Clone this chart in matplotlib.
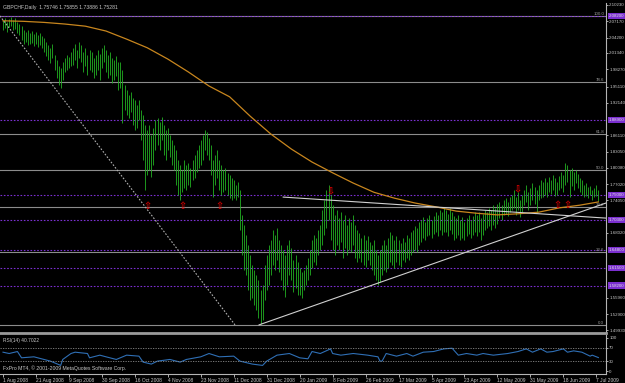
import matplotlib
matplotlib.use('Agg')
import matplotlib.pyplot as plt
import matplotlib.transforms as mtrans

# daily bars, GBPCHF, 1 Aug 2008 .. 10 Jul 2009 (one entry per bar)
highs = [
    2.075, 2.078, 2.071, 2.076, 2.080, 2.075, 2.078, 2.071, 2.067, 2.063,
    2.056, 2.052, 2.056, 2.050, 2.054, 2.049, 2.052, 2.047, 2.050, 2.045,
    2.041, 2.034, 2.028, 2.023, 2.030, 2.010, 2.000, 1.989, 1.986, 1.997,
    2.004, 2.010, 2.006, 2.015, 2.023, 2.030, 2.019, 2.034, 2.028, 2.015,
    2.023, 2.010, 2.019, 2.015, 2.004, 2.010, 2.019, 2.011, 2.023, 2.028,
    2.019, 2.010, 2.015, 2.004, 2.000, 2.008, 1.997, 1.997, 1.982, 1.954,
    1.945, 1.935, 1.941, 1.930, 1.926, 1.917, 1.926, 1.908, 1.898, 1.880,
    1.870, 1.880, 1.861, 1.874, 1.889, 1.893, 1.885, 1.895, 1.880, 1.870,
    1.874, 1.861, 1.852, 1.843, 1.833, 1.815, 1.806, 1.796, 1.815, 1.806,
    1.809, 1.800, 1.815, 1.824, 1.833, 1.843, 1.852, 1.861, 1.870, 1.867,
    1.856, 1.843, 1.815, 1.824, 1.833, 1.815, 1.806, 1.796, 1.800, 1.791,
    1.787, 1.781, 1.778, 1.768, 1.774, 1.759, 1.713, 1.694, 1.676, 1.657,
    1.639, 1.620, 1.611, 1.602, 1.592, 1.574, 1.583, 1.620, 1.639, 1.657,
    1.666, 1.685, 1.676, 1.689, 1.666, 1.657, 1.648, 1.639, 1.657, 1.666,
    1.652, 1.629, 1.639, 1.626, 1.615, 1.607, 1.611, 1.620, 1.633, 1.648,
    1.666, 1.676, 1.670, 1.685, 1.694, 1.722, 1.741, 1.759, 1.768, 1.750,
    1.731, 1.713, 1.722, 1.707, 1.718, 1.703, 1.713, 1.694, 1.707, 1.700,
    1.713, 1.694, 1.685, 1.679, 1.670, 1.676, 1.666, 1.674, 1.663, 1.657,
    1.666, 1.648, 1.639, 1.648, 1.657, 1.666, 1.657, 1.670, 1.681, 1.676,
    1.666, 1.674, 1.666, 1.661, 1.670, 1.663, 1.676, 1.670, 1.681, 1.685,
    1.692, 1.689, 1.700, 1.703, 1.709, 1.700, 1.707, 1.713, 1.703, 1.711,
    1.718, 1.713, 1.722, 1.718, 1.726, 1.722, 1.715, 1.726, 1.718, 1.711,
    1.707, 1.713, 1.703, 1.709, 1.700, 1.707, 1.713, 1.703, 1.711, 1.718,
    1.713, 1.718, 1.707, 1.715, 1.722, 1.718, 1.726, 1.722, 1.731, 1.726,
    1.733, 1.737, 1.731, 1.741, 1.744, 1.737, 1.746, 1.750, 1.759, 1.746,
    1.755, 1.741, 1.750, 1.759, 1.768, 1.755, 1.763, 1.772, 1.765, 1.759,
    1.768, 1.778, 1.774, 1.781, 1.774, 1.783, 1.778, 1.787, 1.781, 1.774,
    1.785, 1.793, 1.787, 1.809, 1.806, 1.796, 1.800, 1.793, 1.796, 1.789,
    1.781, 1.778, 1.768, 1.772, 1.765, 1.767, 1.759, 1.763, 1.768, 1.759,
]
lows = [
    2.056, 2.060, 2.052, 2.062, 2.063, 2.056, 2.058, 2.050, 2.047, 2.037,
    2.030, 2.034, 2.028, 2.030, 2.032, 2.026, 2.030, 2.024, 2.028, 2.023,
    2.015, 2.008, 2.000, 1.995, 2.004, 1.982, 1.967, 1.954, 1.948, 1.963,
    1.978, 1.982, 1.986, 1.989, 1.991, 2.000, 1.986, 2.004, 1.997, 1.978,
    1.989, 1.972, 1.982, 1.978, 1.967, 1.972, 1.982, 1.963, 1.986, 1.997,
    1.978, 1.967, 1.972, 1.958, 1.963, 1.971, 1.945, 1.948, 1.883, 1.908,
    1.898, 1.893, 1.904, 1.880, 1.870, 1.874, 1.889, 1.852, 1.815, 1.759,
    1.787, 1.796, 1.783, 1.806, 1.833, 1.843, 1.833, 1.852, 1.824, 1.815,
    1.833, 1.820, 1.806, 1.796, 1.768, 1.750, 1.741, 1.755, 1.763, 1.759,
    1.768, 1.765, 1.778, 1.781, 1.793, 1.800, 1.806, 1.815, 1.833, 1.824,
    1.815, 1.787, 1.746, 1.768, 1.781, 1.759, 1.750, 1.755, 1.759, 1.750,
    1.744, 1.741, 1.744, 1.741, 1.746, 1.685, 1.639, 1.611, 1.602, 1.574,
    1.555, 1.559, 1.546, 1.537, 1.522, 1.511, 1.518, 1.555, 1.574, 1.583,
    1.602, 1.620, 1.611, 1.629, 1.607, 1.592, 1.574, 1.561, 1.583, 1.602,
    1.592, 1.570, 1.577, 1.564, 1.564, 1.559, 1.574, 1.583, 1.592, 1.602,
    1.615, 1.626, 1.620, 1.639, 1.648, 1.657, 1.676, 1.689, 1.703, 1.666,
    1.648, 1.639, 1.657, 1.648, 1.663, 1.633, 1.652, 1.639, 1.648, 1.644,
    1.657, 1.633, 1.626, 1.633, 1.626, 1.620, 1.616, 1.629, 1.620, 1.611,
    1.602, 1.592, 1.583, 1.589, 1.602, 1.611, 1.607, 1.615, 1.626, 1.620,
    1.615, 1.626, 1.620, 1.616, 1.629, 1.626, 1.633, 1.629, 1.639, 1.644,
    1.648, 1.644, 1.657, 1.663, 1.670, 1.666, 1.674, 1.676, 1.670, 1.678,
    1.681, 1.674, 1.685, 1.676, 1.681, 1.681, 1.674, 1.685, 1.678, 1.666,
    1.670, 1.676, 1.666, 1.670, 1.666, 1.674, 1.678, 1.670, 1.676, 1.681,
    1.674, 1.681, 1.666, 1.676, 1.685, 1.689, 1.692, 1.685, 1.694, 1.689,
    1.696, 1.707, 1.703, 1.713, 1.715, 1.711, 1.718, 1.722, 1.726, 1.713,
    1.722, 1.709, 1.718, 1.731, 1.737, 1.722, 1.731, 1.741, 1.733, 1.716,
    1.741, 1.744, 1.746, 1.750, 1.746, 1.755, 1.752, 1.759, 1.748, 1.750,
    1.759, 1.763, 1.755, 1.768, 1.774, 1.746, 1.767, 1.759, 1.772, 1.763,
    1.755, 1.750, 1.746, 1.748, 1.744, 1.750, 1.741, 1.746, 1.748, 1.739,
]

# moving average (orange), sampled at bar indices
ma_idx = [0, 10, 20, 30, 40, 50, 60, 70, 80, 90, 100, 110, 120, 130, 140,
          150, 160, 170, 180, 190, 200, 210, 220, 230, 240, 250, 260, 270, 280, 289]
ma_val = [2.073, 2.072, 2.070, 2.067, 2.063, 2.054, 2.039, 2.023, 2.002, 1.978,
          1.952, 1.932, 1.896, 1.863, 1.835, 1.811, 1.791, 1.772, 1.755, 1.744,
          1.735, 1.728, 1.720, 1.716, 1.713, 1.715, 1.718, 1.726, 1.731, 1.737]

# RSI(14)
rsi_idx = [0, 3, 7, 9, 15, 23, 28, 29, 33, 35, 41, 42, 47, 50, 55, 60, 66, 68, 72, 75,
           81, 86, 89, 96, 100, 105, 112, 115, 121, 126, 128, 133, 139, 144, 148, 150,
           154, 159, 160, 164, 170, 177, 182, 183, 184, 186, 191, 196, 199, 204, 209,
           214, 218, 221, 225, 230, 233, 238, 245, 250, 254, 257, 261, 264, 267, 272,
           274, 277, 281, 285, 286, 289]
rsi_val = [57, 53, 59, 40, 43, 30, 17, 35, 53, 57, 53, 40, 48, 43, 35, 48, 45, 27, 21, 30,
           35, 27, 35, 43, 53, 43, 45, 30, 21, 17, 30, 48, 53, 40, 37, 59,
           53, 67, 53, 48, 53, 48, 43, 30, 30, 53, 45, 53, 45, 57, 59,
           67, 69, 48, 53, 48, 53, 48, 53, 59, 67, 57, 67, 57, 59, 67,
           57, 61, 57, 45, 48, 40.7]

# fibonacci retracement anchors and levels
fib_high = 2.082
fib_low = 1.509
fib_levels = [0.0, 23.6, 38.2, 50.0, 61.8, 78.6, 100.0]
# purple dotted horizontal lines
hlines = [2.082, 1.889, 1.750, 1.703, 1.648, 1.615, 1.582]
hline_labels = ['2.08200', '1.88900', '1.75000', '1.70300', '1.64800', '1.61500', '1.58200']

# trend lines: (bar, price) end points
diag_line = ([-1.5, 112.6], [2.082, 1.509])
support_line = ([124.3, 292.7], [1.509, 1.735])
resist_line = ([136.0, 292.7], [1.746, 1.707])

# red arrows
up_idx = [70, 87, 105, 269, 274]
up_price = [1.730, 1.730, 1.730, 1.731, 1.731]
down_idx = [159, 250]
down_price = [1.759, 1.763]

# axis labels not covered by the purple boxes
price_ticks = [2.10230, 2.07170, 2.04200, 2.01340, 1.98270, 1.95110, 1.92140,
               1.86110, 1.83050, 1.80080, 1.77020, 1.74050, 1.68020,
               1.55960, 1.52900, 1.49930]
date_labels = ['1 Aug 2008', '21 Aug 2008', '9 Sep 2008', '30 Sep 2008', '16 Oct 2008',
               '4 Nov 2008', '23 Nov 2008', '11 Dec 2008', '31 Dec 2008', '20 Jan 2009',
               '8 Feb 2009', '26 Feb 2009', '17 Mar 2009', '5 Apr 2009', '23 Apr 2009',
               '12 May 2009', '31 May 2009', '18 Jun 2009', '7 Jul 2009']
bars_per_label = 16

FONT = 'Liberation Sans'
FS = 3.5       # bottom / panel texts
FS_AX = 3.2    # right price axis
GRID = '#8c8c8c'
TXT = '#c8c8c8'

W, H = 625, 383
fig = plt.figure(figsize=(W / 100, H / 100), dpi=100, facecolor='black')
ax = fig.add_axes([0, 50 / H, 606 / W, 330 / H], facecolor='black')
rax = fig.add_axes([0, 9 / H, 606 / W, 39 / H], facecolor='black')

xlim = (-1.46, 292.7)
idx = list(range(len(highs)))

# fib levels
tr = mtrans.blended_transform_factory(ax.transAxes, ax.transData)
for lv in fib_levels:
    p = fib_low + (fib_high - fib_low) * lv / 100
    ax.axhline(p, color=GRID, lw=0.8, zorder=1)
    ax.text(0.997, p, f'{lv:.1f}', transform=tr, ha='right', va='bottom',
            fontsize=FS_AX, color='#9a9a9a', family=FONT)

for p in hlines:
    ax.axhline(p, color='#7b2fd0', lw=0.8, ls=(0, (1.5, 1.5)), zorder=1.2)

ax.vlines(idx, lows, highs, color='#22b022', lw=0.6, zorder=2)
ax.plot(ma_idx, ma_val, color='#c8861e', lw=0.9, zorder=3)
ax.plot(*diag_line, color='#b0b0b0', lw=0.8, ls=(0, (1.5, 1.5)), zorder=3)
ax.plot(*support_line, color='#d0d0d0', lw=0.8, zorder=3)
ax.plot(*resist_line, color='#d0d0d0', lw=0.8, zorder=3)

for i, p in zip(up_idx, up_price):
    ax.text(i, p, '\u21e7', color='#d00000', fontsize=7, fontweight='bold', ha='center',
            va='center', family='DejaVu Sans', zorder=4)
for i, p in zip(down_idx, down_price):
    ax.text(i, p, '\u21e9', color='#d00000', fontsize=7, fontweight='bold', ha='center',
            va='center', family='DejaVu Sans', zorder=4)

ax.set_xlim(*xlim)
ax.set_ylim(1.4939, 2.1060)
ax.yaxis.tick_right()
ax.set_yticks(price_ticks)
ax.set_yticklabels([f'{t:.5f}' for t in price_ticks])
ax.tick_params(axis='y', colors=TXT, labelsize=FS_AX, length=1.5, width=0.6, pad=0.8)
ax.set_xticks([])
for lab in ax.get_yticklabels():
    lab.set_family(FONT)
for s in ['top', 'left']:
    ax.spines[s].set_visible(False)
ax.spines['right'].set_color('#b4b4b4')
ax.spines['right'].set_linewidth(0.8)
ax.spines['bottom'].set_color('#9a9a9a')
ax.spines['bottom'].set_linewidth(2)

# purple price boxes on the axis
for p, lab in zip(hlines, hline_labels):
    ax.text(1.005, p, lab, transform=tr, ha='left', va='center', fontsize=FS_AX, color='#e0e0e0',
            family=FONT, clip_on=False, zorder=6,
            bbox=dict(boxstyle='square,pad=0.25', fc='#7b2fd0', ec='none'))

fig.text(3 / W, 1 - 8 / H, 'GBPCHF,Daily  1.75746 1.75855 1.73886 1.75281', color=TXT,
         fontsize=3.7, family=FONT, va='center')

# RSI panel
rax.plot(rsi_idx, rsi_val, color='#2f6fb5', lw=0.8)
for lv in (30, 70):
    rax.axhline(lv, color='#8a8a8a', lw=0.6, ls=(0, (1.5, 1.5)))
rax.set_xlim(*xlim)
rax.set_ylim(-9, 109)
rax.yaxis.tick_right()
rax.set_yticks([0, 30, 70, 100])
rax.tick_params(axis='y', colors=TXT, labelsize=FS_AX, length=1.5, width=0.6, pad=0.8)
tick_pos = [k * bars_per_label for k in range(len(date_labels))]
rax.set_xticks(tick_pos)
rax.set_xticklabels(date_labels)
rax.tick_params(axis='x', colors=TXT, labelsize=FS, length=2, width=0.6, pad=0.8)
for lab in rax.get_xticklabels():
    lab.set_ha('left')
    lab.set_family(FONT)
for lab in rax.get_yticklabels():
    lab.set_family(FONT)
rax.spines['top'].set_visible(False)
rax.spines['left'].set_visible(False)
rax.spines['right'].set_color('#b4b4b4')
rax.spines['bottom'].set_color('#b4b4b4')
rax.text(0.005, 0.87, 'RSI(14) 40.7022', transform=rax.transAxes, fontsize=FS, color=TXT,
         family=FONT, va='center')
rax.text(0.005, 0.15, 'FxPro MT4, \u00a9 2001-2009 MetaQuotes Software Corp.', transform=rax.transAxes,
         fontsize=3.7, color=TXT, family=FONT, va='center')

fig.savefig('out.png', dpi=100, facecolor='black')
